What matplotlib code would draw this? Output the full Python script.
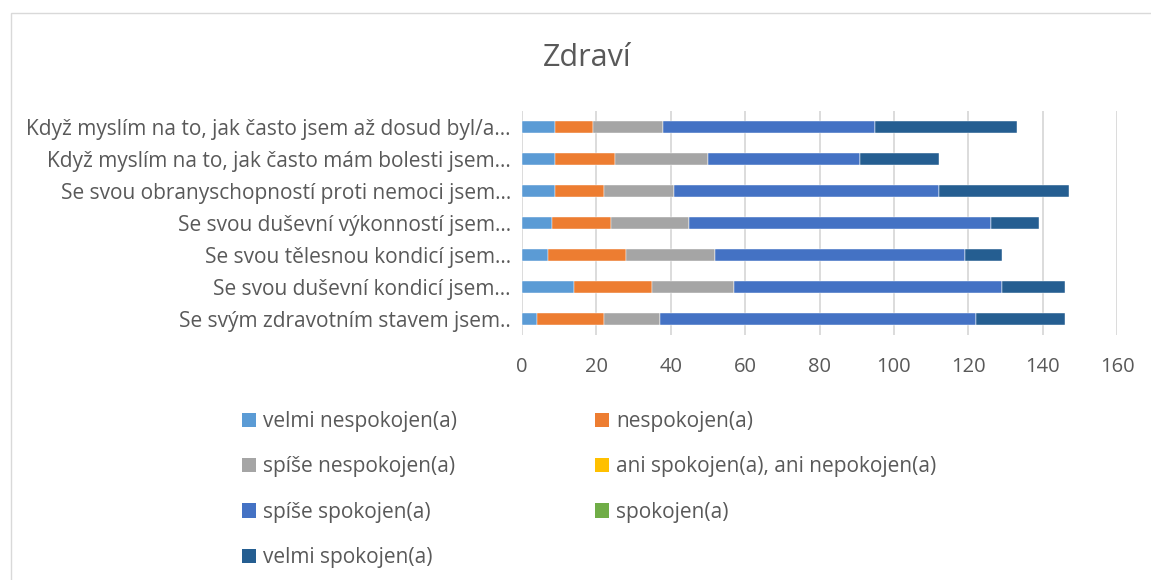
import matplotlib
matplotlib.use("Agg")
import matplotlib.pyplot as plt
import numpy as np
from matplotlib.patches import Rectangle, Patch

plt.rcParams["font.family"] = ["Open Sans", "DejaVu Sans"]

TEXT_COLOR = "#595959"
GRID_COLOR = "#D9D9D9"

# Kategorie (shora dolů, jak jsou v grafu)
categories = [
    "Když myslím na to, jak často jsem až dosud byl/a...",
    "Když myslím na to, jak často mám bolesti jsem...",
    "Se svou obranyschopností proti nemoci jsem...",
    "Se svou duševní výkonností jsem...",
    "Se svou tělesnou kondicí jsem...",
    "Se svou duševní kondicí jsem...",
    "Se svým zdravotním stavem jsem..",
]

series_names = [
    "velmi nespokojen(a)",
    "nespokojen(a)",
    "spíše nespokojen(a)",
    "ani spokojen(a), ani nepokojen(a)",
    "spíše spokojen(a)",
    "spokojen(a)",
    "velmi spokojen(a)",
]

velmi_nespokojen = [9, 9, 9, 8, 7, 14, 4]
nespokojen = [10, 16, 13, 16, 21, 21, 18]
spise_nespokojen = [19, 25, 19, 21, 24, 22, 15]
ani_ani = [0, 0, 0, 0, 0, 0, 0]
spise_spokojen = [57, 41, 71, 81, 67, 72, 85]
spokojen = [0, 0, 0, 0, 0, 0, 0]
velmi_spokojen = [38, 21, 35, 13, 10, 17, 24]

series_values = [
    velmi_nespokojen,
    nespokojen,
    spise_nespokojen,
    ani_ani,
    spise_spokojen,
    spokojen,
    velmi_spokojen,
]

colors = ["#5B9BD5", "#ED7D31", "#A5A5A5", "#FFC000", "#4472C4", "#70AD47", "#255E91"]

fig = plt.figure(figsize=(11.51, 5.80), dpi=100)
W, H = 1151, 580

# Rámeček grafu
fig.patches.append(
    Rectangle((11 / W, -0.05), 1.1, 1 - 13 / H + 0.05, transform=fig.transFigure,
              fill=False, edgecolor=GRID_COLOR, linewidth=1.0)
)

ax = fig.add_axes([522 / W, 1 - 335 / H, (1117 - 522) / W, (335 - 111) / H])

y = np.arange(len(categories))
left = np.zeros(len(categories))
for name, vals, color in zip(series_names, series_values, colors):
    vals = np.array(vals, dtype=float)
    ax.barh(y, vals, left=left, height=0.39, color=color, label=name,
            edgecolor="white", linewidth=0.3, zorder=3)
    left += vals

ax.set_xlim(0, 160)
ax.set_ylim(len(categories) - 0.5, -0.5)
ax.set_xticks(np.arange(0, 161, 20))
ax.set_yticks(y)
ax.set_yticklabels(categories)

ax.grid(axis="x", color=GRID_COLOR, linewidth=1.3, zorder=0)
for side in ["top", "right", "bottom", "left"]:
    ax.spines[side].set_visible(False)
ax.tick_params(axis="both", length=0, colors=TEXT_COLOR, labelsize=14.5)
ax.tick_params(axis="y", labelsize=15, pad=8)
ax.tick_params(axis="x", pad=16)

fig.text(587 / W, 1 - 58 / H, "Zdraví", ha="center", va="center",
         fontsize=22, color=TEXT_COLOR)

# Legenda ve dvou sloupcích
handles = [Patch(facecolor=c, edgecolor="none") for c in colors]
col1 = [0, 2, 4, 6]
col2 = [1, 3, 5]
for idx, x0 in ((col1, 242), (col2, 595)):
    leg = fig.legend([handles[i] for i in idx], [series_names[i] for i in idx],
                     loc="upper left", bbox_to_anchor=(x0 / W, 1 - 411 / H),
                     frameon=False, fontsize=15, handlelength=0.68,
                     handleheight=0.68, handletextpad=0.32, labelspacing=1.17,
                     borderpad=0, borderaxespad=0)
    for t in leg.get_texts():
        t.set_color(TEXT_COLOR)

fig.savefig("out.png", dpi=100)
